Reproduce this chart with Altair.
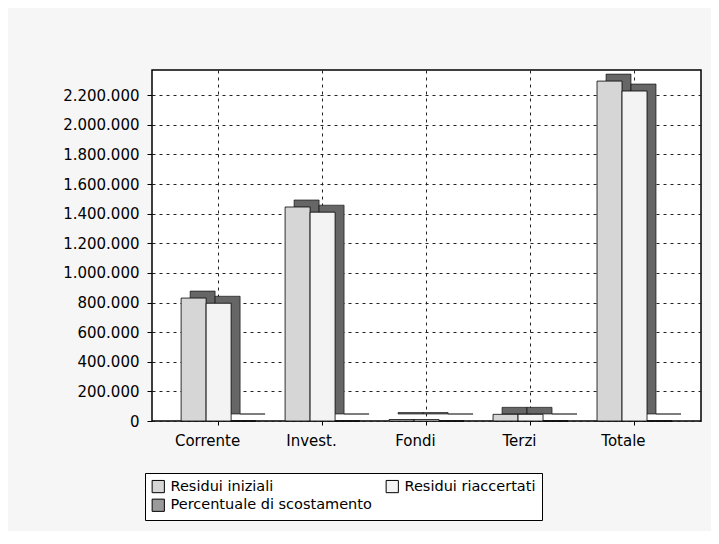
import altair as alt
import pandas as pd

categories = ["Corrente", "Invest.", "Fondi", "Terzi", "Totale"]
series = ["Residui iniziali", "Residui riaccertati", "Percentuale di scostamento"]
residui_iniziali = [830000, 1445000, 10000, 45000, 2295000]
residui_riaccertati = [795000, 1410000, 10000, 45000, 2228000]
percentuale_scostamento = [-4, -2, 0, 0, -3]
y_ticks = [0, 200000, 400000, 600000, 800000, 1000000, 1200000,
           1400000, 1600000, 1800000, 2000000, 2200000]
series_colors = ["#d6d6d6", "#f3f3f3", "#9a9a9a"]

rows = []
for vals, s in zip([residui_iniziali, residui_riaccertati, percentuale_scostamento], series):
    for c, v in zip(categories, vals):
        rows.append({"categoria": c, "serie": s, "valore": v})
df = pd.DataFrame(rows)

FONT = "DejaVu Sans"

x_enc = alt.X("categoria:N", sort=categories, title=None,
              scale=alt.Scale(paddingInner=0.28, paddingOuter=0.28),
              axis=alt.Axis(labelAngle=0, labelFont=FONT, labelFontSize=15,
                            labelColor="black", labelPadding=8, labelOffset=-11,
                            tickColor="black", tickSize=4, domain=False,
                            grid=True, gridColor="#222", gridDash=[3, 4],
                            gridWidth=1, bandPosition=0.5))
y_enc = alt.Y("valore:Q", title=None,
              scale=alt.Scale(domain=[0, 2370000], nice=False, clamp=True),
              axis=alt.Axis(values=y_ticks, format=",d", labelFont=FONT,
                            labelFontSize=15, labelColor="black", labelPadding=8,
                            tickColor="black", tickSize=5, domain=False,
                            grid=True, gridColor="#222", gridDash=[3, 4],
                            gridWidth=1))

base = alt.Chart(df)

# depth faces of the pseudo-3D bars: same bars, shifted right and up
shadow = base.mark_bar(color="#666666", stroke="black", strokeWidth=0.6,
                       yOffset=-7, y2Offset=-7).encode(
    x=x_enc,
    xOffset=alt.XOffset("serie:N", sort=series, scale=alt.Scale(range=[9, 84])),
    y=y_enc
)

front = base.mark_bar(stroke="black", strokeWidth=0.8).encode(
    x=x_enc,
    xOffset=alt.XOffset("serie:N", sort=series, scale=alt.Scale(range=[0, 75])),
    y=y_enc,
    color=alt.Color("serie:N", sort=series,
                    scale=alt.Scale(domain=series, range=series_colors),
                    legend=alt.Legend(title=None, orient="none", legendX=-7,
                                      legendY=403, columns=2, direction="horizontal",
                                      symbolType="square", symbolSize=150,
                                      symbolStrokeColor="black", symbolStrokeWidth=1,
                                      labelFont=FONT, labelFontSize=14.5,
                                      labelColor="black", labelLimit=300,
                                      columnPadding=12, rowPadding=2, padding=6,
                                      strokeColor="black", fillColor="white",
                                      symbolOffset=0, labelOffset=5))
)

chart = alt.layer(shadow, front).resolve_scale(xOffset="independent").properties(
    width=549, height=351,
    autosize=alt.AutoSizeParams(type="none"),
    padding={"left": 144, "top": 62, "right": 10, "bottom": 110},
    background="#f6f6f6",
).configure(
    locale={"number": {"decimal": ",", "thousands": ".", "grouping": [3],
                       "currency": ["€", ""]}}
).configure_view(
    stroke="black", strokeWidth=1.5, fill="white"
)

chart.save("out.html", embed_options={"renderer": "svg", "actions": False})
